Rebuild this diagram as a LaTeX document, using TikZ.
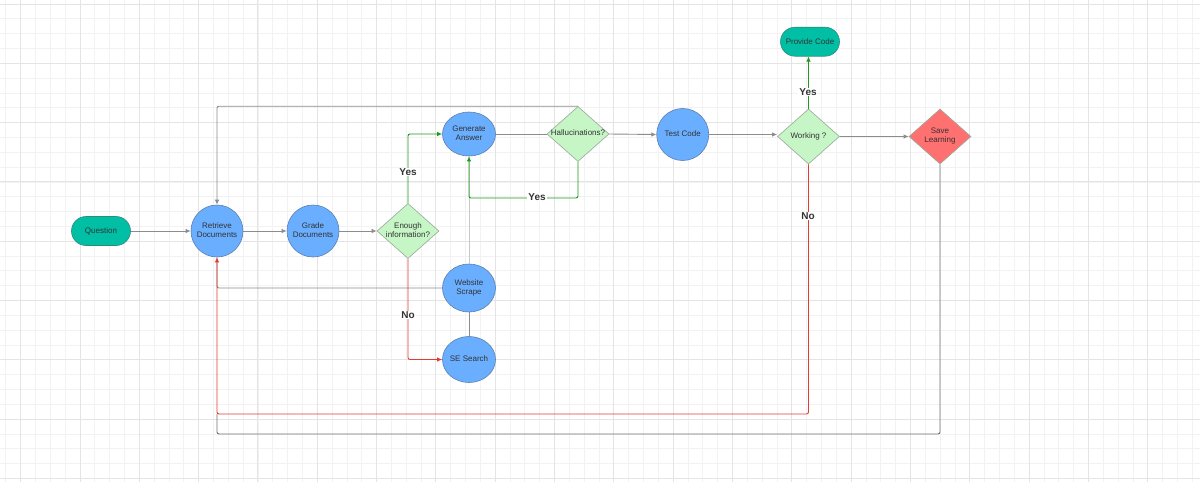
\documentclass[tikz,border=0pt]{standalone}
\usepackage{fontspec}
\setmainfont{Liberation Sans}
\usetikzlibrary{shapes.geometric,arrows.meta}
\definecolor{tealc}{HTML}{00BFA5}
\definecolor{tealb}{HTML}{2E8B7A}
\definecolor{bluec}{HTML}{6AAEFF}
\definecolor{blueb}{HTML}{5A7FAF}
\definecolor{greenf}{HTML}{C6F5C6}
\definecolor{diab}{HTML}{9AA89A}
\definecolor{redf}{HTML}{FF7070}
\definecolor{txt}{HTML}{333333}
\definecolor{lgray}{HTML}{8C8C8C}
\definecolor{vlgray}{HTML}{C8C8C8}
\definecolor{lgreen}{HTML}{1E9A1E}
\definecolor{lred}{HTML}{E53935}
\definecolor{gminorc}{HTML}{F2F2F2}
\definecolor{gmajorc}{HTML}{E4E4E4}
\newcommand{\zw}[1]{\makebox[0pt]{\begin{tabular}{@{}c@{}}#1\end{tabular}}}
\tikzset{
  base/.style={text=txt, font=\fontsize{8}{9}\selectfont, inner sep=0pt, line width=0.6pt},
  term/.style={base, rectangle, rounded corners=14.5pt, fill=tealc, draw=tealb, minimum width=59pt, minimum height=29pt},
  circ/.style={base, circle, fill=bluec, draw=blueb, minimum size=52pt},
  ell/.style={base, ellipse, fill=bluec, draw=blueb, minimum width=53pt, minimum height=44pt},
  dia/.style={base, diamond, fill=greenf, draw=diab, minimum width=62pt, minimum height=55pt},
  conn/.style={line width=0.9pt, rounded corners=2pt},
  arr/.style={conn, -{Latex[length=5pt,width=4.5pt]}},
  elab/.style={fill=white, text=txt, font=\bfseries\fontsize{10}{12}\selectfont, inner sep=1pt},
  gminor/.style={gminorc, line width=0.9pt},
  gmajor/.style={gmajorc, line width=1pt}
}
\begin{document}
\begin{tikzpicture}[x=1pt,y=-1pt]
\useasboundingbox (0,0) rectangle (1200,482);
\fill[white] (0,0) rectangle (1200,482);
\begin{scope}
\clip (0,0) rectangle (1200,482);
\foreach \i in {-1,...,80} \draw[gminor] ({20.7+\i*14.83},0) -- ({20.7+\i*14.83},482);
\foreach \j in {0,...,32} \draw[gminor] (0,{4+\j*14.83}) -- (1200,{4+\j*14.83});
\foreach \i in {0,...,20} \draw[gmajor] ({20.7+\i*59.32},0) -- ({20.7+\i*59.32},482);
\foreach \j in {0,...,8} \draw[gmajor] (0,{4+\j*59.32}) -- (1200,{4+\j*59.32});
\end{scope}

% nodes
\node[term] (q) at (101,231) {Question};
\node[circ] (ret) at (217,231) {\zw{Retrieve\\Documents}};
\node[circ] (grade) at (313,231) {\zw{Grade\\Documents}};
\node[dia] (enough) at (408,231) {\zw{Enough\\information?}};
\node[ell] (gen) at (469,134) {\zw{Generate\\Answer}};
\node[dia] (hal) at (578,134) {\zw{Hallucinations?}};
\node[circ] (test) at (682.7,134.5) {\zw{Test Code}};
\node[dia] (work) at (808.5,136.5) {\zw{Working ?}};
\node[dia, fill=redf] (save) at (940,136.5) {\zw{Save\\Learning}};
\node[term] (prov) at (810,41.7) {Provide Code};
\node[ell, minimum height=48pt] (web) at (469,288) {\zw{Website\\Scrape}};
\node[ell, minimum height=46pt] (se) at (469,359.5) {\zw{SE Search}};

% connectors
\draw[conn, vlgray] (web.north) -- (gen.south);
\draw[conn, lgray] (web.south) -- (se.north);
\draw[conn, lgray] (web.west) -- (web.west -| ret.south) -- (ret.south);
\draw[conn, black!55] (save.south) -- (save.south |- 0,434) -- (ret.south |- 0,434) -- (ret.south |- 0,414);
\draw[arr, lgray] (hal.north) -- (hal.north -| ret.north) -- (ret.north);
\draw[arr, lred] (work.south) -- (work.south |- 0,414) -- (ret.south |- 0,414) -- (ret.south);
\node[elab] (no2) at (808,216) {No};
\draw[arr, lgray] (q.east) -- (ret.west);
\draw[arr, lgray] (ret.east) -- (grade.west);
\draw[arr, lgray] (grade.east) -- (enough.west);
\draw[arr, lgreen] (enough.north) -- (enough.north |- gen.west) -- (gen.west);
\node[elab] (yes1) at (408,172) {Yes};
\draw[arr, lred] (enough.south) -- (enough.south |- se.west) -- (se.west);
\node[elab] (no1) at (408,315) {No};
\draw[conn, lgray] (gen.east) -- (hal.west);
\draw[arr, lgreen] (hal.south) -- (hal.south |- 0,198) -- (gen.south |- 0,198) -- (gen.south);
\node[elab] (yes2) at (537,197) {Yes};
\draw[arr, lgray] (hal.east) -- (test.west);
\draw[arr, lgray] (test.east) -- (test.east -| work.west);
\draw[arr, lgray] (work.east) -- (save.west);
\draw[arr, lgreen] (work.north) -- (work.north |- prov.south);
\node[elab] (yes3) at (808,92) {Yes};
\end{tikzpicture}
\end{document}
